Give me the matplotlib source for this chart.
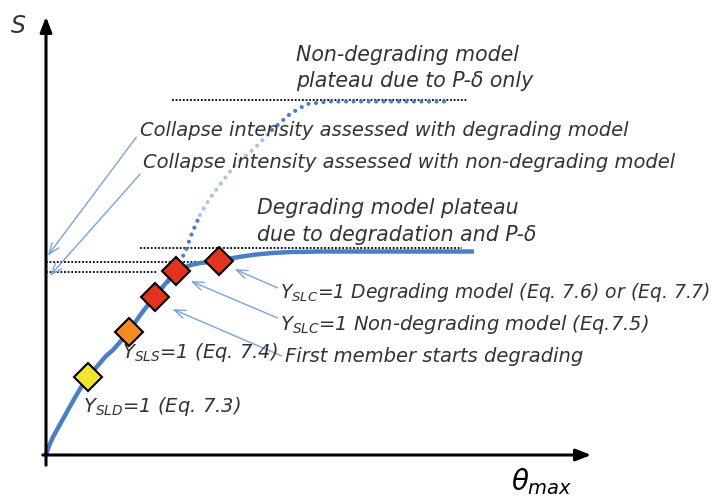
import numpy as np
import matplotlib
matplotlib.use("Agg")
import matplotlib.pyplot as plt

plt.rcParams['font.family'] = ['DejaVu Sans']
plt.rcParams['mathtext.fontset'] = 'dejavusans'

# points (pixel space, y down)
deg_x = [46, 49, 53, 58, 63, 68, 73, 80, 88, 94, 100, 106, 113, 120, 127, 134, 141, 148, 155, 160, 166, 171, 176,
         183, 191, 200, 210, 219, 230, 242, 256, 272, 292, 320, 360, 420, 474]
deg_y = [455, 446, 437, 428, 419, 410, 401, 389, 377, 370, 363, 356, 350, 342, 334, 324, 314, 305, 297, 290, 283,
         277, 272, 268, 265, 263, 262, 260.5, 258.5, 256.5, 254.5, 253, 252, 251.5, 251.5, 251.5, 251.5]

nondeg_x = [163, 172, 180, 186, 192, 200, 210, 222, 235, 255, 272, 290, 307, 330, 380, 447]
nondeg_y = [287, 278, 262, 250, 233, 215, 198, 182, 165, 148, 130, 114, 104, 101.5, 101.5, 101.5]

pts_x = [88, 129, 155, 176, 219]
pts_y = [377, 332, 297, 271, 261]
pts_c = ['#f2e52e', '#f28c1e', '#e2331f', '#e2331f', '#e2331f']

# plateau / collapse level guides: (y, x_start, x_end)
guides = [(99.5, 172, 468), (248, 140, 462), (262, 46, 216), (272, 46, 158)]

blue = '#4a7fc6'
light = '#7aa3d8'
txt = '#333333'

fig = plt.figure(figsize=(7.17, 4.96), dpi=100)
ax = fig.add_axes([0, 0, 1, 1])
ax.set_xlim(0, 717)
ax.set_ylim(496, 0)
ax.axis('off')

# axes arrows
ax.annotate('', xy=(46, 14), xytext=(46, 468),
            arrowprops=dict(arrowstyle='-|>,head_length=0.9,head_width=0.35', lw=2.2, color='black'))
ax.annotate('', xy=(594, 455), xytext=(40, 455),
            arrowprops=dict(arrowstyle='-|>,head_length=0.9,head_width=0.35', lw=2.2, color='black'))
ax.text(18, 26, 'S', fontsize=17, style='italic', color=txt, ha='center', va='center')
ax.text(542, 482, r'$\theta_{max}$', fontsize=20, color='black', ha='center', va='center')

for gy, gx0, gx1 in guides:
    ax.plot([gx0, gx1], [gy, gy], color='black', lw=1.3, ls=(0, (1, 1)))

# non-degrading model curve (dotted)
nx = np.array(nondeg_x)
ny = np.array(nondeg_y)
dots = dict(lw=3.0, ls=(0, (0.01, 1.8)), dash_capstyle='round')
ax.plot(nx[:6], ny[:6], color=blue, **dots)
ax.plot(nx[5:11], ny[5:11], color='#a9c4e8', **dots)
ax.plot(nx[10:], ny[10:], color=blue, **dots)

# degrading model curve
ax.plot(deg_x, deg_y, color=blue, lw=3.2, solid_capstyle='butt', solid_joinstyle='round')

for x, y, c in zip(pts_x, pts_y, pts_c):
    ax.plot(x, y, marker='D', ms=14, mfc=c, mec='black', mew=1.5)

# collapse intensity pointers
ax.annotate('', xy=(46, 258), xytext=(138, 135),
            arrowprops=dict(arrowstyle='->,head_length=0.8,head_width=0.3', lw=1.0, color=light))
ax.annotate('', xy=(48, 278), xytext=(142, 172),
            arrowprops=dict(arrowstyle='->,head_length=0.8,head_width=0.3', lw=1.0, color=light))

# marker pointers
for head, tail in [((232, 268), (280, 289)), ((188, 280), (280, 319)), ((170, 308), (284, 357))]:
    ax.annotate('', xy=head, xytext=tail,
                arrowprops=dict(arrowstyle='->,head_length=0.8,head_width=0.3', lw=1.0, color=light))

kw = dict(style='italic', color=txt, va='center', ha='left')
ax.text(296, 55, 'Non-degrading model', fontsize=14.8, **kw)
ax.text(296, 81, 'plateau due to P-δ only', fontsize=14.8, **kw)
ax.text(140, 131, 'Collapse intensity assessed with degrading model', fontsize=14, **kw)
ax.text(143, 162, 'Collapse intensity assessed with non-degrading model', fontsize=14, **kw)
ax.text(257, 208, 'Degrading model plateau', fontsize=14.8, **kw)
ax.text(257, 235, 'due to degradation and P-δ', fontsize=14.8, **kw)
ax.text(280, 292, r'Y$_{\mathit{SLC}}$=1 Degrading model (Eq. 7.6) or (Eq. 7.7)', fontsize=13.5, **kw)
ax.text(280, 325, r'Y$_{\mathit{SLC}}$=1 Non-degrading model (Eq.7.5)', fontsize=14, **kw)
ax.text(285, 357, 'First member starts degrading', fontsize=14, **kw)
ax.text(122, 353, r'Y$_{\mathit{SLS}}$=1 (Eq. 7.4)', fontsize=14, **kw)
ax.text(83, 406, r'Y$_{\mathit{SLD}}$=1 (Eq. 7.3)', fontsize=14, **kw)

fig.savefig('out.png', dpi=100)
